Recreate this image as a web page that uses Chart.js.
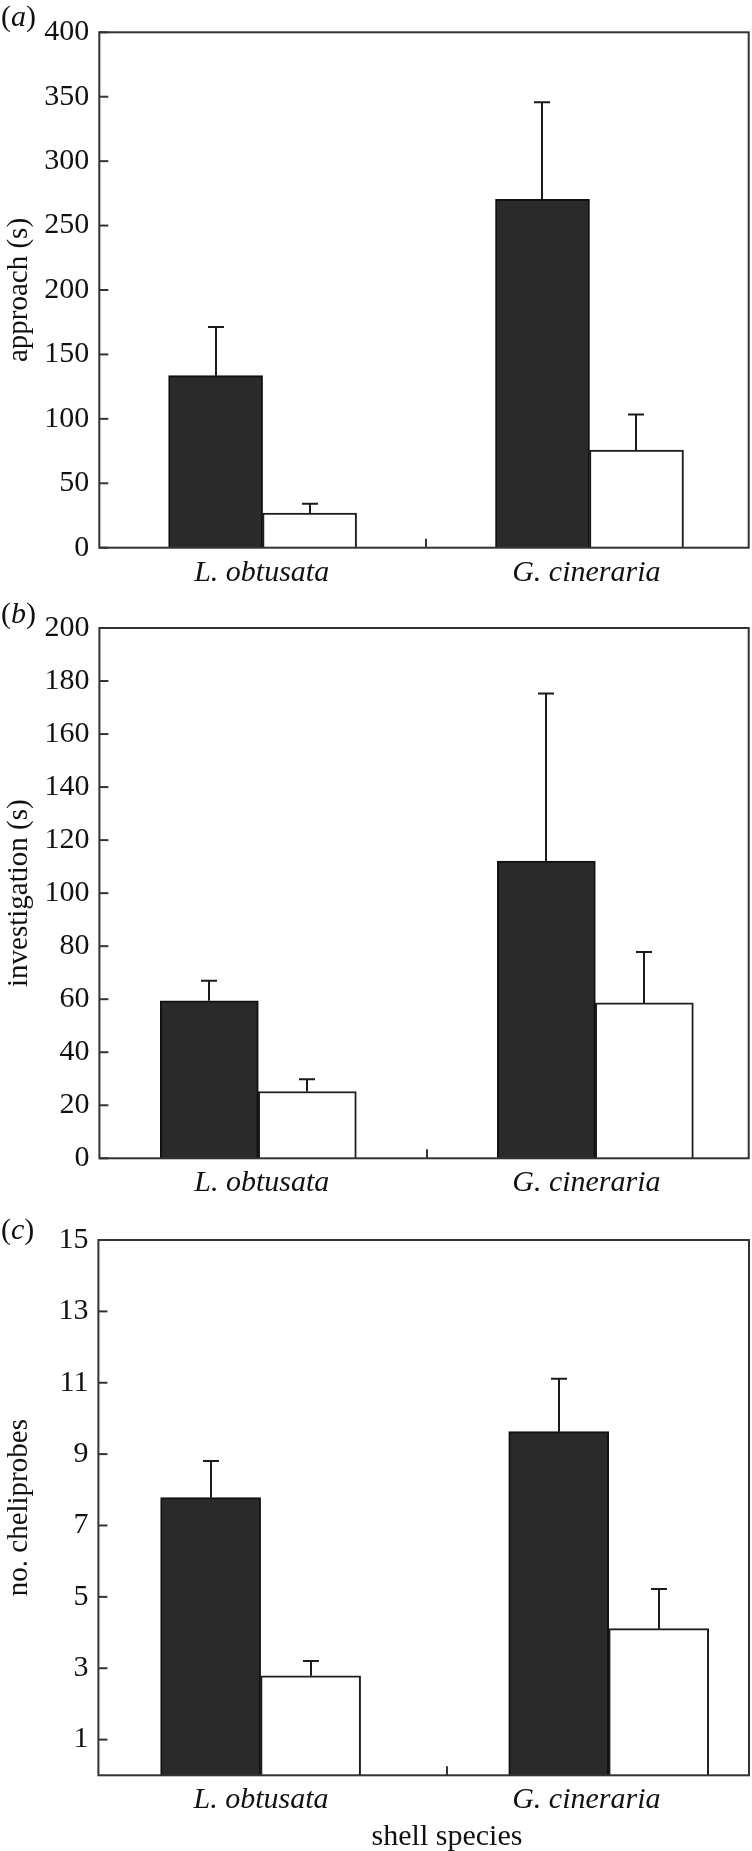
<!DOCTYPE html>
<html><head><meta charset="utf-8">
<script src="https://cdn.jsdelivr.net/npm/chart.js@4.4.1/dist/chart.umd.min.js"></script>
<style>
html,body{margin:0;padding:0;background:#fff;width:752px;height:1851px;overflow:hidden;position:relative;}
canvas{position:absolute;left:0;}
.pre{position:absolute;left:-1000px;top:0;font-family:"Liberation Serif";font-size:30px;}
</style></head><body>
<span class="pre">400 approach</span><span class="pre" style="font-style:italic">L. obtusata</span>
<canvas id="ca"></canvas><canvas id="cb"></canvas><canvas id="cc"></canvas>
<script>
// ---------- data ----------
const categories = ['L. obtusata', 'G. cineraria'];

// (a) approach (s)
const approachDark = [133.5, 270.4];
const approachDarkSE = [37.7, 75.4];
const approachWhite = [26.8, 75.8];
const approachWhiteSE = [7.4, 27.6];
const approachTicks = [0, 50, 100, 150, 200, 250, 300, 350, 400];

// (b) investigation (s)
const investigationDark = [59.4, 112.1];
const investigationDarkSE = [7.6, 63.2];
const investigationWhite = [25.2, 58.6];
const investigationWhiteSE = [4.6, 19.2];
const investigationTicks = [0, 20, 40, 60, 80, 100, 120, 140, 160, 180, 200];

// (c) no. cheliprobes
const cheliprobesDark = [7.78, 9.63];
const cheliprobesDarkSE = [1.03, 1.48];
const cheliprobesWhite = [2.79, 4.11];
const cheliprobesWhiteSE = [0.41, 1.11];
const cheliprobesTicks = [1, 3, 5, 7, 9, 11, 13, 15];

const panelLetters = ['a', 'b', 'c'];
const yTitles = ['approach (s)', 'investigation (s)', 'no. cheliprobes'];
const xTitle = 'shell species';

// ---------- layout / style (not data) ----------
const FONT = '"Liberation Serif", "Times New Roman", Tinos, serif';
const panels = [
  {id:'ca', top:0, height:600, area:{l:99.3,t:32.3,r:748.7,b:547.7}, yMin:0, yMax:400, xbMin:-0.4995, xbMax:1.487, barW:94, mid:0.5, letterBase:26,
   dark:approachDark, darkSE:approachDarkSE, white:approachWhite, whiteSE:approachWhiteSE, ticks:approachTicks, letter:panelLetters[0], yTitle:yTitles[0]},
  {id:'cb', top:600, height:612, area:{l:99.4,t:619.3,r:748.7,b:1158.3}, yMin:0, yMax:200, xbMin:-0.4715, xbMax:1.455, barW:98, mid:0.5, letterBase:623,
   dark:investigationDark, darkSE:investigationDarkSE, white:investigationWhite, whiteSE:investigationWhiteSE, ticks:investigationTicks, letter:panelLetters[1], yTitle:yTitles[1]},
  {id:'cc', top:1212, height:639, area:{l:98.4,t:1236,r:749,b:1775.3}, yMin:0, yMax:15, xbMin:-0.466, xbMax:1.403, barW:100, mid:0.534, letterBase:1239,
   dark:cheliprobesDark, darkSE:cheliprobesDarkSE, white:cheliprobesWhite, whiteSE:cheliprobesWhiteSE, ticks:cheliprobesTicks, letter:panelLetters[2], yTitle:yTitles[2], xTitle:xTitle, xTitleBase:1845}
];

const decor = {
  id: 'decor',
  afterDatasetsDraw(chart, args, opts) {
    const p = opts.panel;
    const ctx = chart.ctx;
    const ca = chart.chartArea;
    const ys = chart.scales.y, xb = chart.scales.xb;
    ctx.save();
    // error bars
    const se = [p.darkSE, p.whiteSE];
    const vals = [p.dark, p.white];
    ctx.strokeStyle = '#1a1a1a';
    ctx.lineWidth = 2;
    for (let d = 0; d < 2; d++) {
      const meta = chart.getDatasetMeta(d);
      meta.data.forEach((el, i) => {
        const x = Math.round(el.x);
        const yTop = ys.getPixelForValue(vals[d][i] + se[d][i]);
        const yBase = ys.getPixelForValue(vals[d][i]);
        ctx.beginPath();
        ctx.moveTo(x, yBase);
        ctx.lineTo(x, yTop);
        ctx.moveTo(x - 8, yTop);
        ctx.lineTo(x + 8, yTop);
        ctx.stroke();
      });
    }
    // frame
    ctx.strokeStyle = '#333';
    ctx.lineWidth = 2;
    ctx.strokeRect(ca.left, ca.top, ca.right - ca.left, ca.bottom - ca.top);
    // inward y ticks
    p.ticks.forEach(v => {
      const y = ys.getPixelForValue(v);
      ctx.beginPath();
      ctx.moveTo(ca.left, y);
      ctx.lineTo(ca.left + 9, y);
      ctx.stroke();
    });
    // middle x tick
    const mx = Math.round(xb.getPixelForValue(p.mid));
    ctx.beginPath();
    ctx.moveTo(mx, ca.bottom);
    ctx.lineTo(mx, ca.bottom - 9);
    ctx.stroke();
    // panel letter
    ctx.fillStyle = '#111';
    ctx.textBaseline = 'alphabetic';
    ctx.textAlign = 'left';
    let x = 1;
    const by = p.letterBase - p.top;
    ctx.font = '30px ' + FONT;
    ctx.fillText('(', x, by); x += ctx.measureText('(').width;
    ctx.font = 'italic 30px ' + FONT;
    ctx.fillText(p.letter, x, by); x += ctx.measureText(p.letter).width;
    ctx.font = '30px ' + FONT;
    ctx.fillText(')', x, by);
    // x title
    if (p.xTitle) {
      ctx.textAlign = 'center';
      ctx.font = '30px ' + FONT;
      ctx.fillText(p.xTitle, mx, p.xTitleBase - p.top);
    }
    ctx.restore();
  }
};

function build() {
  panels.forEach(p => {
    const cv = document.getElementById(p.id);
    cv.width = 752; cv.height = p.height;
    cv.style.top = p.top + 'px';
    const areaTop = p.area.t - p.top;
    const areaBottom = p.area.b - p.top;
    new Chart(cv, {
      type: 'bar',
      data: {
        labels: categories,
        datasets: [
          {data: p.dark.map((v, i) => ({x: i, y: v})), xAxisID: 'xb', yAxisID: 'y',
           backgroundColor: '#2a2a2a', borderColor: '#111', borderWidth: 2, barThickness: p.barW, borderSkipped: 'start'},
          {data: p.white.map((v, i) => ({x: i, y: v})), xAxisID: 'xb', yAxisID: 'y',
           backgroundColor: '#ffffff', borderColor: '#1e1e1e', borderWidth: 2, barThickness: p.barW, borderSkipped: 'start'}
        ]
      },
      options: {
        responsive: false, animation: false, devicePixelRatio: 1,
        layout: {autoPadding: false, padding: {left: 0, top: areaTop, right: 752 - p.area.r, bottom: 0}},
        plugins: {legend: {display: false}, tooltip: {enabled: false}, decor: {panel: p}},
        scales: {
          x: {type: 'category', position: 'bottom', offset: true,
              grid: {display: false, drawTicks: false}, border: {display: false},
              ticks: {color: '#111', font: {family: FONT, size: 30, style: 'italic'}, padding: 7, maxRotation: 0, autoSkip: false},
              afterFit: s => { s.height = p.height - areaBottom; }},
          xb: {type: 'linear', display: false, offset: false, grid: {offset: false}, min: p.xbMin, max: p.xbMax, position: 'bottom'},
          y: {type: 'linear', position: 'left', min: p.yMin, max: p.yMax,
              grid: {display: false, drawTicks: false}, border: {display: false},
              afterBuildTicks: s => { s.ticks = p.ticks.map(v => ({value: v})); },
              ticks: {color: '#111', font: {family: FONT, size: 30}, padding: 10},
              title: {display: true, text: p.yTitle, color: '#111', font: {family: FONT, size: 29}, padding: {top: 2, bottom: 0}},
              afterFit: s => { s.width = p.area.l; }}
        }
      },
      plugins: [decor]
    });
  });
}

let built = false;
function go() { if (!built) { built = true; build(); } }
if (document.fonts && document.fonts.load) {
  Promise.all([
    document.fonts.load('30px "Liberation Serif"'),
    document.fonts.load('italic 30px "Liberation Serif"')
  ]).then(go, go);
  setTimeout(go, 1500);
} else { go(); }
</script>
</body></html>
